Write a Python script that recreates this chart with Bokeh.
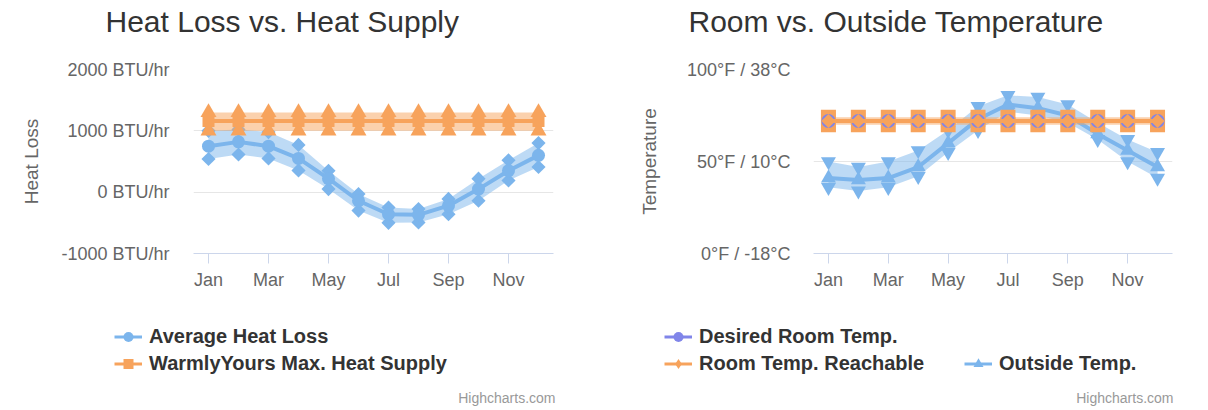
import math
from bokeh.plotting import figure
from bokeh.models import (ColumnDataSource, FixedTicker, Range1d, Legend, LegendItem, Label)
from bokeh.layouts import row, column
from bokeh.embed import file_html
from bokeh.resources import INLINE

# ---------------- data ----------------
months = ["Jan", "Feb", "Mar", "Apr", "May", "Jun", "Jul", "Aug", "Sep", "Oct", "Nov", "Dec"]
month_idx = list(range(len(months)))
tick_months = months[::2]
tick_month_idx = month_idx[::2]

heat_loss_avg = [750, 820, 750, 550, 220, -140, -360, -370, -220, 50, 350, 600]
heat_loss_low = [540, 615, 550, 355, 50, -300, -500, -495, -360, -140, 190, 410]
heat_loss_high = [1000, 1020, 980, 770, 350, -30, -250, -275, -110, 220, 520, 800]

heat_supply = [1160] * 12
heat_supply_low = [1000] * 12
heat_supply_high = [1300] * 12

heat_ticks = [-1000, 0, 1000, 2000]
heat_tick_labels = ["-1000 BTU/hr", "0 BTU/hr", "1000 BTU/hr", "2000 BTU/hr"]

desired_temp = [72] * 12
reachable_temp = [72] * 12
reachable_low = [70] * 12
reachable_high = [74] * 12

outside_temp = [41, 40, 41, 47, 60, 73, 81, 79, 75, 65, 56, 47]
outside_high = [50, 47, 50, 56, 67, 80, 86, 85, 81, 71, 62, 55]
outside_low = [36, 34, 36, 42, 55, 67, 77, 75, 71, 62, 50, 41]

temp_ticks = [0, 50, 100]
temp_tick_labels = ["0°F / -18°C", "50°F / 10°C", "100°F / 38°C"]

# ---------------- style ----------------
BLUE = "#7cb5ec"
ORANGE = "#f7a35c"
PURPLE = "#8085e9"
FONT = "Liberation Sans"
BAND_ALPHA = 0.5


def blank_fig(frame_w, frame_h, bl, br, title=None):
    f = figure(frame_width=frame_w, frame_height=frame_h, output_backend="svg",
               toolbar_location=None, x_range=Range1d(0, 1), y_range=Range1d(0, 1),
               x_axis_location=None, y_axis_location=None, title=title,
               min_border_left=bl, min_border_right=br, min_border_top=0, min_border_bottom=0)
    f.outline_line_color = None
    f.grid.visible = False
    f.background_fill_color = "white"
    f.border_fill_color = "white"
    return f


def head_fig(title, frame_w, bl, br, offset):
    f = blank_fig(frame_w, 6, bl, br, title=title)
    f.title.text_font = FONT
    f.title.text_font_size = "30px"
    f.title.text_font_style = "normal"
    f.title.text_color = "#333333"
    f.title.align = "left"
    f.title.offset = offset
    f.title.vertical_align = "top"
    f.title.standoff = 8
    return f


def main_fig(y0, y1, bl, frame_w, br):
    p = figure(frame_width=frame_w, frame_height=184, output_backend="svg", toolbar_location=None,
               x_range=Range1d(-0.5, 11.5), y_range=Range1d(y0, y1),
               min_border_left=bl, min_border_right=br,
               min_border_top=20, min_border_bottom=40)
    p.outline_line_color = None
    p.background_fill_color = "white"
    p.border_fill_color = "white"
    p.xgrid.visible = False
    p.ygrid.grid_line_color = "#e6e6e6"
    p.ygrid.grid_line_width = 1

    xa = p.xaxis[0]
    xa.ticker = FixedTicker(ticks=tick_month_idx)
    xa.major_label_overrides = {i: m for i, m in zip(tick_month_idx, tick_months)}
    xa.axis_line_color = "#ccd6eb"
    xa.major_tick_line_color = "#ccd6eb"
    xa.major_tick_out = 10
    xa.major_tick_in = 0
    xa.minor_tick_line_color = None
    xa.major_label_text_font = FONT
    xa.major_label_text_font_size = "18px"
    xa.major_label_text_color = "#666666"
    xa.major_label_standoff = 6

    ya = p.yaxis[0]
    ya.axis_line_color = None
    ya.major_tick_line_color = None
    ya.minor_tick_line_color = None
    ya.major_tick_out = 0
    ya.major_tick_in = 0
    ya.major_label_text_font = FONT
    ya.major_label_text_font_size = "18px"
    ya.major_label_text_color = "#666666"
    ya.axis_label_text_font = FONT
    ya.axis_label_text_font_size = "19px"
    ya.axis_label_text_font_style = "normal"
    ya.axis_label_text_color = "#666666"
    return p


def add_legend(f, entries, vx, nrows="auto", label_width=20):
    items = []
    for label, color, marker, show in entries:
        rs = []
        if show:
            rs.append(f.line(x=[-10, -9], y=[-10, -10], line_color=color, line_width=3))
        rs.append(f.scatter(x=[-10], y=[-10], marker=marker, size=12,
                            fill_color=color, line_color=None, fill_alpha=1 if show else 0))
        items.append(LegendItem(label=label, renderers=rs))
    lg = Legend(items=items, orientation="vertical", location=(vx, 33), nrows=nrows,
                margin=0, padding=0, spacing=2, glyph_width=28, glyph_height=25,
                label_height=25, label_width=label_width, label_standoff=7,
                label_text_font=FONT, label_text_font_size="20px",
                label_text_font_style="bold", label_text_color="#333333",
                border_line_color=None, background_fill_alpha=0)
    f.add_layout(lg)


def add_credits(f, x):
    f.add_layout(Label(x=x, y=12, x_units="screen", y_units="screen",
                       text="Highcharts.com", text_align="right", text_baseline="middle",
                       text_font=FONT, text_font_size="14px", text_color="#999999"))


# ================= left chart =================
h1 = head_fig("Heat Loss vs. Heat Supply", 360, 193, 51, -88)
p1 = main_fig(-1000, 2000, 193, 360, 51)
p1.yaxis[0].ticker = FixedTicker(ticks=heat_ticks)
p1.yaxis[0].major_label_overrides = {t: l for t, l in zip(heat_ticks, heat_tick_labels)}
p1.yaxis[0].axis_label = "Heat Loss"
p1.yaxis[0].major_label_standoff = 24
p1.yaxis[0].axis_label_standoff = 16

s1 = ColumnDataSource(dict(x=month_idx, avg=heat_loss_avg, low=heat_loss_low, high=heat_loss_high,
                           sup=heat_supply, sup_low=heat_supply_low, sup_high=heat_supply_high))

p1.varea(x="x", y1="low", y2="high", source=s1, fill_color=BLUE, fill_alpha=BAND_ALPHA)
for col in ("low", "high"):
    p1.scatter(x="x", y=col, source=s1, marker="square", angle=math.pi / 4, size=10,
               fill_color=BLUE, line_color=None)
p1.varea(x="x", y1="sup_low", y2="sup_high", source=s1, fill_color=ORANGE, fill_alpha=BAND_ALPHA)
for col in ("sup_low", "sup_high"):
    p1.scatter(x="x", y=col, source=s1, marker="triangle", size=16,
               fill_color=ORANGE, line_color=None)
p1.line(x="x", y="avg", source=s1, line_color=BLUE, line_width=4)
p1.scatter(x="x", y="avg", source=s1, marker="circle", size=13, fill_color=BLUE, line_color=None)
p1.line(x="x", y="sup", source=s1, line_color=ORANGE, line_width=4)
p1.scatter(x="x", y="sup", source=s1, marker="square", size=12, fill_color=ORANGE, line_color=None)

# ================= right chart =================
h2 = head_fig("Room vs. Outside Temperature", 359, 209, 36, -125)
p2 = main_fig(0, 100, 209, 359, 36)
p2.yaxis[0].ticker = FixedTicker(ticks=temp_ticks)
p2.yaxis[0].major_label_overrides = {t: l for t, l in zip(temp_ticks, temp_tick_labels)}
p2.yaxis[0].axis_label = "Temperature"
p2.yaxis[0].major_label_standoff = 23
p2.yaxis[0].axis_label_standoff = 24

s2 = ColumnDataSource(dict(x=month_idx, desired=desired_temp, reach=reachable_temp,
                           reach_low=reachable_low, reach_high=reachable_high,
                           out=outside_temp, out_low=outside_low, out_high=outside_high))

p2.varea(x="x", y1="out_low", y2="out_high", source=s2, fill_color=BLUE, fill_alpha=BAND_ALPHA)
for col in ("out_low", "out_high"):
    p2.scatter(x="x", y=col, source=s2, marker="inverted_triangle", size=15,
               fill_color=BLUE, line_color=None)
p2.line(x="x", y="out", source=s2, line_color=BLUE, line_width=4)
p2.scatter(x="x", y="out", source=s2, marker="triangle", size=15, fill_color=BLUE, line_color=None)

p2.varea(x="x", y1="reach_low", y2="reach_high", source=s2, fill_color=ORANGE, fill_alpha=BAND_ALPHA)
for col in ("reach_low", "reach_high"):
    p2.scatter(x="x", y=col, source=s2, marker="square", size=15, fill_color=ORANGE, line_color=None)

p2.line(x="x", y="desired", source=s2, line_color=PURPLE, line_width=4)
p2.scatter(x="x", y="desired", source=s2, marker="circle", size=14, fill_color=PURPLE, line_color=None)
p2.line(x="x", y="reach", source=s2, line_color=ORANGE, line_width=4)
p2.scatter(x="x", y="reach", source=s2, marker="square", angle=math.pi / 4, size=10,
           fill_color=ORANGE, line_color=None)

# ================= legends + credits (one wide strip) =================
foot = blank_fig(1208, 116, 0, 0)
add_legend(foot, [("Average Heat Loss", BLUE, "circle", True),
                  ("WarmlyYours Max. Heat Supply", ORANGE, "square", True)], 114)
add_legend(foot, [("Desired Room Temp.", PURPLE, "circle", True),
                  ("Room Temp. Reachable", ORANGE, "diamond", True),
                  (" ", "#ffffff", "circle", False),
                  ("Outside Temp.", BLUE, "triangle", True)], 664, nrows=2, label_width=263)
add_credits(foot, 555)
add_credits(foot, 1173)

layout = column(row(column(h1, p1), column(h2, p2)), foot)
open("out.html", "w").write(file_html(layout, INLINE))
